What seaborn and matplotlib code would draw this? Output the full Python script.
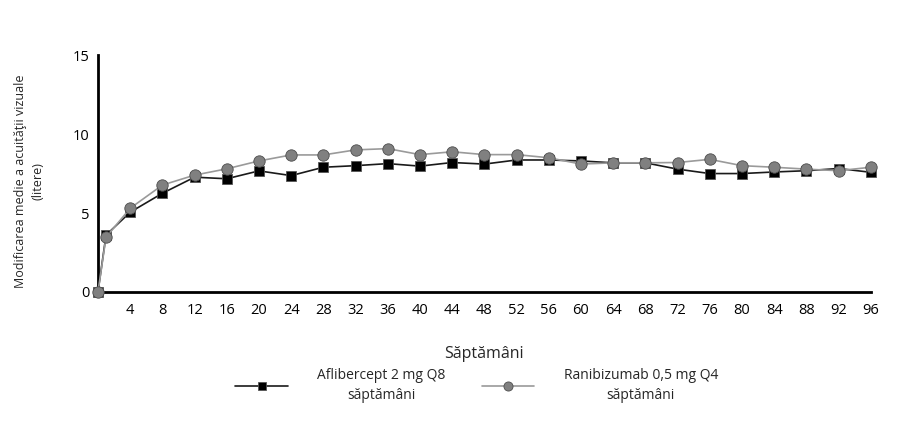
import pandas as pd
import numpy as np
import matplotlib.pyplot as plt
import seaborn as sns

# data
weeks = [0, 1, 4, 8, 12, 16, 20, 24, 28, 32, 36, 40, 44, 48, 52, 56, 60, 64, 68, 72, 76, 80, 84, 88, 92, 96]
aflibercept = [0, 3.6, 5.05, 6.25, 7.27, 7.17, 7.67, 7.37, 7.9, 8.0, 8.13, 7.97, 8.2, 8.1, 8.36, 8.36, 8.3, 8.18,
               8.18, 7.78, 7.5, 7.5, 7.6, 7.68, 7.82, 7.58]
ranibizumab = [0, 3.47, 5.3, 6.77, 7.4, 7.8, 8.3, 8.68, 8.68, 9.0, 9.08, 8.7, 8.88, 8.7, 8.7, 8.5, 8.1, 8.18,
               8.18, 8.2, 8.4, 8.0, 7.9, 7.78, 7.68, 7.9]
x_ticks = list(range(4, 97, 4))
y_ticks = [0, 5, 10, 15]

label_afl = "Aflibercept 2 mg Q8\nsăptămâni"
label_ran = "Ranibizumab 0,5 mg Q4\nsăptămâni"

df = pd.DataFrame({"week": weeks, "afl": aflibercept, "ran": ranibizumab})

sns.set_style("white")
plt.rcParams['font.family'] = ['Open Sans', 'DejaVu Sans']

fig = plt.figure(figsize=(9.2, 4.28), dpi=100)
ax = fig.add_axes([0.1065, 0.318, 0.84, 0.553])

sns.lineplot(data=df, x="week", y="afl", ax=ax, color="#1a1a1a", linewidth=1.2,
             marker="s", markersize=7.2, markerfacecolor="black", markeredgecolor="#555555",
             markeredgewidth=0.6, label=label_afl, clip_on=False, zorder=3)
sns.lineplot(data=df, x="week", y="ran", ax=ax, color="#9a9a9a", linewidth=1.2,
             marker="o", markersize=8.2, markerfacecolor="#808080", markeredgecolor="#4d4d4d",
             markeredgewidth=0.6, label=label_ran, clip_on=False, zorder=4)

ax.set_xlim(0, 96)
ax.set_ylim(0, 15)
ax.set_xticks(x_ticks)
ax.set_yticks(y_ticks)
ax.tick_params(direction="in", length=6, width=1.5, colors="black", labelsize=10.5, pad=6)
ax.tick_params(axis="x", pad=8)
for side in ["top", "right"]:
    ax.spines[side].set_visible(False)
for side in ["left", "bottom"]:
    ax.spines[side].set_linewidth(2)
    ax.spines[side].set_color("black")

ax.set_xlabel("Săptămâni", fontsize=11.5, labelpad=20)
ax.set_ylabel("Modificarea medie a acuităţii vizuale\n(litere)", fontsize=9,
              multialignment="center", linespacing=1.5)
ax.yaxis.set_label_coords(-0.069, 0.468)

ax.get_legend().remove()
handles, labels = ax.get_legend_handles_labels()
leg = fig.legend(handles, labels, loc="center", bbox_to_anchor=(0.518, 0.1), ncol=2, frameon=False,
                 fontsize=10, handlelength=3.8, handletextpad=2.1, columnspacing=2.6, markerscale=0.8)
for t in leg.get_texts():
    t.set_multialignment("center")
    t.set_linespacing(1.45)

fig.savefig("out.png", dpi=100)
